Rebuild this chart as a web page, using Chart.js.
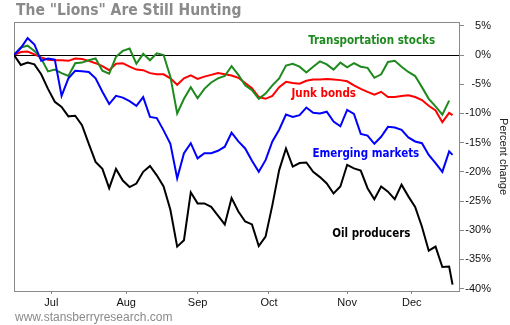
<!DOCTYPE html>
<html>
<head>
<meta charset="utf-8">
<script src="https://cdn.jsdelivr.net/npm/chart.js@4"></script>
<style>
  html, body { margin: 0; padding: 0; background: #fff; }
</style>
</head>
<body>
<canvas id="chart" width="510" height="325"></canvas>
<script>
// trading-day index, 0 = Jun 16 2014
const tradingDay = [0, 2, 4, 6, 8, 10, 12, 14, 16, 18, 20, 22, 24, 26, 28, 30, 32, 34, 36, 38,
  40, 42, 44, 46, 48, 50, 52, 54, 56, 58, 60, 62, 64, 66, 68, 70, 72, 74, 76, 78,
  80, 82, 84, 86, 88, 90, 92, 94, 96, 98, 100, 102, 104, 106, 108, 110, 112, 114, 116, 118,
  120, 122, 124, 126, 128, 129];
const monthTickDays = [11, 33, 54, 75, 98, 117];
const monthLabels = ["Jul", "Aug", "Sep", "Oct", "Nov", "Dec"];
const percentTicks = [5, 0, -5, -10, -15, -20, -25, -30, -35, -40];

const transportation = [0, 1.3, 1.6, 0.7, -0.6, -2.8, -2.5, -3.1, -3.6, -1.4,
  -1.3, -0.9, -0.6, -2.7, -3.2, -0.3, 0.7, 1.1, -1.5, 0.2,
  -0.9, 0.3, 0.0, -3.7, -10.0, -7.5, -5.5, -7.4, -5.8, -4.7,
  -4.0, -3.6, -1.9, -3.4, -5.2, -6.0, -7.5, -6.6, -5.2, -4.0,
  -1.8, -1.5, -2.0, -3.0, -2.0, -1.1, -1.6, -2.5, -1.3, -2.1,
  -1.4, -2.0, -2.2, -3.9, -3.3, -1.2, -1.0, -2.0, -2.9, -3.6,
  -5.5, -7.5, -8.8, -10.2, -7.8, null];
const junkBonds = [0, 0.5, 0.6, 0.1, -0.4, -0.8, -0.9, -0.9, -1.0, -0.6,
  -0.7, -1.0, -1.4, -1.9, -2.6, -1.5, -1.4, -2.0, -2.5, -2.6,
  -3.1, -3.3, -3.3, -4.0, -5.1, -4.0, -3.5, -4.1, -3.7, -3.4,
  -3.1, -3.3, -3.5, -3.9, -4.8, -5.7, -7.2, -7.5, -7.0, -5.5,
  -4.6, -4.8, -4.9, -4.4, -4.2, -4.2, -4.1, -4.2, -4.3, -4.5,
  -5.2, -5.8, -6.3, -6.8, -6.3, -7.2, -7.2, -7.0, -6.9, -7.2,
  -7.7, -8.7, -9.5, -11.5, -9.9, -10.3];
const emergingMarkets = [0, 1.2, 2.9, 1.8, -1.0, -0.6, -0.8, -7.0, -4.0, -2.7,
  -2.8, -2.9, -4.0, -6.3, -8.4, -7.0, -7.3, -7.9, -8.7, -7.2,
  -10.6, -10.8, -12.9, -15.2, -21.1, -16.8, -15.1, -17.7, -16.8, -16.8,
  -16.4, -15.7, -13.3, -14.8, -16.0, -18.1, -20.0, -18.0, -14.8, -12.8,
  -10.2, -10.6, -10.3, -9.0, -9.9, -10.0, -9.7, -11.4, -12.2, -9.4,
  -10.1, -13.5, -13.8, -15.2, -14.0, -12.3, -12.4, -12.8, -14.1, -14.8,
  -15.1, -17.1, -18.5, -20.0, -16.5, -17.1];
const oilProducers = [0, -1.7, -1.3, -1.6, -3.3, -5.8, -8.0, -8.9, -10.5, -10.4,
  -12.0, -15.2, -18.3, -19.5, -22.8, -19.5, -21.5, -22.6, -22.0, -20.0,
  -19.0, -20.6, -22.5, -26.5, -32.8, -31.7, -23.5, -25.4, -25.4, -26.0,
  -27.5, -29.0, -24.5, -26.8, -28.5, -29.0, -32.7, -31.1, -25.7, -19.7,
  -16.0, -19.1, -18.5, -18.4, -20.0, -20.9, -22.0, -23.7, -22.5, -18.8,
  -19.4, -19.8, -22.8, -24.7, -22.5, -23.4, -24.7, -22.2, -24.2, -26.0,
  -29.4, -33.5, -32.8, -36.3, -36.2, -39.3];

const GREEN = "#1e8a1e";
const TICK_FONT = { family: "'Liberation Sans', Arial, sans-serif", size: 11 };
const LABEL_FONT = "bold 11.5px 'DejaVu Sans Condensed', 'DejaVu Sans', sans-serif";

// series names written inside the plot, anchored in data units
const seriesLabels = [
  { text: "Transportation stocks", day: 105.2, value: 2.45, color: GREEN },
  { text: "Junk bonds", day: 91.1, value: -6.7, color: "#ff0000" },
  { text: "Emerging markets", day: 103.5, value: -16.9, color: "#0000ff" },
  { text: "Oil producers", day: 105.1, value: -30.6, color: "#000000" },
];

const toPoints = (values) => tradingDay.map((d, i) => ({ x: d, y: values[i] }));

const decorations = {
  id: "decorations",
  beforeDatasetsDraw(chart) {
    const { ctx, chartArea } = chart;
    ctx.save();
    ctx.strokeStyle = "#8a8a8a";
    ctx.lineWidth = 1;
    ctx.strokeRect(chartArea.left + 0.5, chartArea.top + 0.5,
      chartArea.right - chartArea.left, chartArea.bottom - chartArea.top);
    ctx.restore();
  },
  afterDatasetsDraw(chart) {
    const { ctx } = chart;
    const x = chart.scales.x;
    const y = chart.scales.y;
    ctx.save();
    ctx.textAlign = "center";
    ctx.textBaseline = "middle";
    ctx.font = LABEL_FONT;
    seriesLabels.forEach((l) => {
      ctx.fillStyle = l.color;
      ctx.fillText(l.text, x.getPixelForValue(l.day), y.getPixelForValue(l.value));
    });

    ctx.textAlign = "left";
    ctx.textBaseline = "alphabetic";
    ctx.fillStyle = "#8a8a8a";
    ctx.font = "bold 15.5px 'DejaVu Sans Condensed', 'DejaVu Sans', sans-serif";
    ctx.fillText('The "Lions" Are Still Hunting', 16, 15);
    ctx.font = "12px 'Liberation Sans', Arial, sans-serif";
    ctx.fillText("www.stansberryresearch.com", 15, 321);
    ctx.restore();
  },
};

new Chart(document.getElementById("chart"), {
  type: "line",
  data: {
    datasets: [
      { label: "Oil producers", data: toPoints(oilProducers), borderColor: "#000000" },
      { label: "Emerging markets", data: toPoints(emergingMarkets), borderColor: "#0000ff" },
      { label: "Transportation stocks", data: toPoints(transportation), borderColor: GREEN },
      { label: "Junk bonds", data: toPoints(junkBonds), borderColor: "#ff0000" },
    ],
  },
  options: {
    responsive: false,
    animation: false,
    devicePixelRatio: 1,
    layout: { padding: { left: 14, top: 22, right: 19, bottom: 0 } },
    plugins: { legend: { display: false }, tooltip: { enabled: false } },
    elements: {
      point: { radius: 0 },
      line: { borderWidth: 2, tension: 0, fill: false },
    },
    scales: {
      x: {
        type: "linear",
        min: 0,
        max: 130.9,
        afterBuildTicks: (scale) => {
          scale.ticks = monthTickDays.map((v) => ({ value: v }));
        },
        afterFit: (scale) => {
          scale.height = 34;
        },
        ticks: {
          callback: (value, index) => monthLabels[index],
          color: "#111",
          font: TICK_FONT,
          padding: 2,
          maxRotation: 0,
          autoSkip: false,
        },
        grid: { drawOnChartArea: false, tickLength: 3, tickColor: "#8a8a8a" },
        border: { display: false },
      },
      y: {
        position: "right",
        min: -40.4,
        max: 5.65,
        afterBuildTicks: (scale) => {
          scale.ticks = percentTicks.map((v) => ({ value: v }));
        },
        afterFit: (scale) => {
          scale.width = 32;
        },
        ticks: {
          callback: (value) => value + "%",
          color: "#111",
          font: TICK_FONT,
          padding: 2,
          crossAlign: "far",
        },
        grid: {
          color: (c) => (c.tick && c.tick.value === 0 ? "#000000" : "rgba(0,0,0,0)"),
          tickColor: "#8a8a8a",
          tickLength: 5,
        },
        border: { display: false },
        title: {
          display: true,
          text: "Percent change",
          color: "#222",
          font: TICK_FONT,
          // the title sits in the right margin, beyond the tick labels
          padding: { top: -19, bottom: 0 },
        },
      },
    },
  },
  plugins: [decorations],
});
</script>
</body>
</html>
